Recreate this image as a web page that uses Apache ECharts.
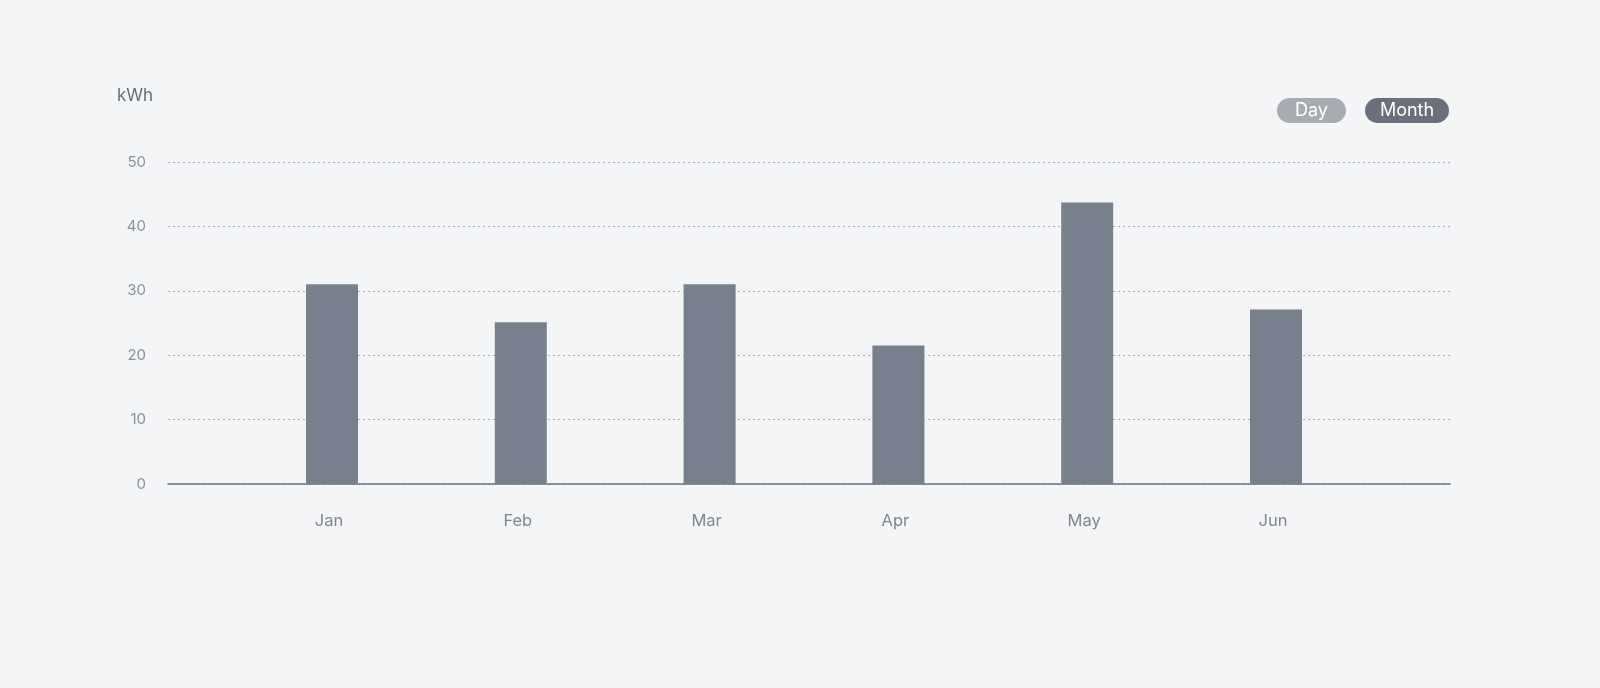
<!DOCTYPE html>
<html>
<head>
<meta charset="utf-8">
<script src="https://cdn.jsdelivr.net/npm/echarts@6/dist/echarts.min.js"></script>
<style>
html,body{margin:0;padding:0;background:#f4f5f7;}
#main{width:1600px;height:688px;}
</style>
</head>
<body>
<div id="main"></div>
<script>
const months = ['Jan', 'Feb', 'Mar', 'Apr', 'May', 'Jun'];
const energyKWh = [31, 25.1, 31, 21.5, 43.7, 27.1];
const yTicks = [0, 10, 20, 30, 40, 50];
const unitLabel = 'kWh';
const toggleLabels = ['Day', 'Month'];

const chart = echarts.init(document.getElementById('main'));
const yMin = yTicks[0], yMax = yTicks[yTicks.length - 1], yStep = yTicks[1] - yTicks[0];

chart.setOption({
  backgroundColor: '#f4f5f7',
  animation: false,
  grid: [
    { left: 168, right: 150, top: 162, bottom: 204 },
    { left: 237.6, right: 229.6, top: 162, bottom: 204 }
  ],
  xAxis: [
    {
      gridIndex: 0, type: 'value', min: 0, max: 1,
      axisLine: { show: true, onZero: false, lineStyle: { color: '#6e747e', width: 1.5 } },
      axisTick: { show: false }, axisLabel: { show: false }, splitLine: { show: false }
    },
    {
      gridIndex: 1, type: 'category', data: months,
      axisLine: { show: false }, axisTick: { show: false },
      axisLabel: { color: '#80858f', fontSize: 16.5, margin: 29, padding: [0, 6, 0, 0], fontFamily: 'Inter, sans-serif' }
    }
  ],
  yAxis: [
    {
      gridIndex: 0, type: 'value', min: yMin, max: yMax, interval: yStep,
      axisLine: { show: false }, axisTick: { show: false },
      axisLabel: { color: '#8a8f99', fontSize: 15, margin: 22, fontFamily: 'Inter, sans-serif' },
      splitLine: { show: true, lineStyle: { color: '#a9adb5', type: [2, 3], width: 1 } }
    },
    {
      gridIndex: 1, type: 'value', min: yMin, max: yMax, interval: yStep, show: false
    }
  ],
  graphic: [
    { type: 'text', left: 117, top: 87, style: { text: unitLabel, fill: '#666c77', fontSize: 17, fontFamily: 'Inter, sans-serif' } },
    { type: 'group', left: 1277, top: 98, children: [
      { type: 'rect', shape: { x: 0, y: 0, width: 69, height: 25, r: 12.5 }, style: { fill: '#a7abb2' } },
      { type: 'text', x: 34.5, y: 12.5, style: { text: toggleLabels[0], fill: '#ffffff', fontSize: 18, fontFamily: 'Inter, sans-serif', align: 'center', verticalAlign: 'middle' } }
    ]},
    { type: 'group', left: 1365, top: 98, children: [
      { type: 'rect', shape: { x: 0, y: 0, width: 84, height: 25, r: 12.5 }, style: { fill: '#6b717c' } },
      { type: 'text', x: 42, y: 12.5, style: { text: toggleLabels[1], fill: '#ffffff', fontSize: 18, fontFamily: 'Inter, sans-serif', align: 'center', verticalAlign: 'middle' } }
    ]}
  ],
  series: [
    {
      type: 'bar', xAxisIndex: 1, yAxisIndex: 1, data: energyKWh,
      barWidth: 52,
      itemStyle: { color: '#77808c' }
    }
  ]
});
</script>
</body>
</html>
